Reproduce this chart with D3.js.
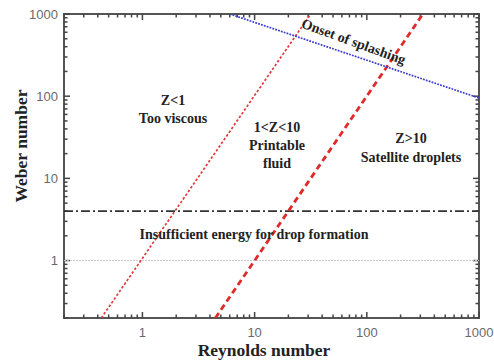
<!DOCTYPE html>
<html><head><meta charset="utf-8">
<script src="https://cdn.jsdelivr.net/npm/d3@7"></script>
<style>body{margin:0;background:#fff}</style>
</head><body>
<svg id="c" width="494" height="360"></svg>
<script>
// Data
const xTickValues = [1, 10, 100, 1000];
const yTickValues = [1, 10, 100, 1000];
const xDomain = [0.2, 1000];
const yDomain = [0.2, 1000];
// Z = 1 boundary (We = Re^2)
const z1Re = [0.43, 31.6];
const z1We = [0.2, 1000];
// Z = 10 boundary (We = (Re/10)^2)
const z10Re = [4.47, 316];
const z10We = [0.2, 1000];
// Onset of splashing
const splashRe = [6.0, 1000];
const splashWe = [1000, 95];
// Horizontal lines
const energyWe = 4;
const unityWe = 1;

const svg = d3.select("#c");
const m = {l: 64, r: 15, t: 14, b: 42};
const W = 494, H = 360;
const x = d3.scaleLog().domain(xDomain).range([m.l, W - m.r]);
const y = d3.scaleLog().domain(yDomain).range([H - m.b, m.t]);

const axisColor = "#555";
const serif = "'Liberation Serif', 'Times New Roman', serif";
const sans = "'Liberation Sans', Arial, sans-serif";

function logTicks(dom) {
  const t = [];
  for (let e = -1; e <= 3; e++) for (let k = 1; k <= 9; k++) {
    const v = +(k * Math.pow(10, e)).toPrecision(6);
    if (v >= dom[0] * 0.999 && v <= dom[1] * 1.001) t.push(v);
  }
  return t;
}
const isMajor = v => Math.abs(Math.log10(v) - Math.round(Math.log10(v))) < 1e-6;
const xt = logTicks(xDomain), yt = logTicks(yDomain);

const g = svg.append("g");
// frame
g.append("rect").attr("x", m.l).attr("y", m.t).attr("width", W - m.l - m.r).attr("height", H - m.t - m.b)
  .attr("fill", "none").attr("stroke", axisColor).attr("stroke-width", 2);
const tk = g.append("g").attr("stroke", "#444").attr("stroke-width", 1.5);
const len = d => isMajor(d) ? 6 : 3.5;
const x0 = x.range()[0], x1 = x.range()[1], y0 = y.range()[0], y1 = y.range()[1];
tk.selectAll(".xb").data(xt).join("line").attr("x1", d => x(d)).attr("x2", d => x(d))
  .attr("y1", y0).attr("y2", d => y0 - len(d));
tk.selectAll(".xt").data(xt).join("line").attr("x1", d => x(d)).attr("x2", d => x(d))
  .attr("y1", y1).attr("y2", d => y1 + len(d));
tk.selectAll(".yl").data(yt).join("line").attr("y1", d => y(d)).attr("y2", d => y(d))
  .attr("x1", x0).attr("x2", d => x0 + len(d));
tk.selectAll(".yr").data(yt).join("line").attr("y1", d => y(d)).attr("y2", d => y(d))
  .attr("x1", x1).attr("x2", d => x1 - len(d));

// tick labels
g.selectAll(".xl").data(xTickValues).join("text").attr("x", d => x(d)).attr("y", y0 + 19)
  .attr("text-anchor", "middle").attr("font-family", sans).attr("font-size", 13).attr("fill", "#6a6a6a")
  .text(d => d3.format("d")(d));
g.selectAll(".yl2").data(yTickValues).join("text").attr("x", x0 - 6).attr("y", d => y(d) + 4.5)
  .attr("text-anchor", "end").attr("font-family", sans).attr("font-size", 13).attr("fill", "#6a6a6a")
  .text(d => d3.format("d")(d));

svg.append("clipPath").attr("id", "pc").append("rect")
  .attr("x", m.l).attr("y", m.t).attr("width", W - m.l - m.r).attr("height", H - m.t - m.b);
const pg = svg.append("g").attr("clip-path", "url(#pc)");

const line = d3.line().x(d => x(d[0])).y(d => y(d[1]));

pg.append("line").attr("x1", x(xDomain[0])).attr("x2", x(xDomain[1]))
  .attr("y1", y(unityWe)).attr("y2", y(unityWe))
  .attr("stroke", "#c8c8c8").attr("stroke-width", 1).attr("stroke-dasharray", "2,1");
pg.append("line").attr("x1", x(xDomain[0])).attr("x2", x(xDomain[1]))
  .attr("y1", y(energyWe)).attr("y2", y(energyWe))
  .attr("stroke", "#333").attr("stroke-width", 1.7).attr("stroke-dasharray", "9,3,2,3");
pg.append("path").datum(d3.zip(z1Re, z1We)).attr("d", line)
  .attr("fill", "none").attr("stroke", "#e0393b").attr("stroke-width", 1.7).attr("stroke-dasharray", "2.5,2");
pg.append("path").datum(d3.zip(z10Re, z10We)).attr("d", line)
  .attr("fill", "none").attr("stroke", "#e02a2a").attr("stroke-width", 2.8).attr("stroke-dasharray", "6,4");
pg.append("path").datum(d3.zip(splashRe, splashWe)).attr("d", line)
  .attr("fill", "none").attr("stroke", "#3a3ad0").attr("stroke-width", 1.7).attr("stroke-dasharray", "1.8,1.2");

function label(txt, cx, cy, size) {
  svg.append("text").attr("x", cx).attr("y", cy).attr("text-anchor", "middle")
    .attr("font-family", serif).attr("font-weight", "bold").attr("font-size", size || 14)
    .attr("fill", "#222").text(txt);
}
label("Z<1", 173, 105);
label("Too viscous", 173, 123);
label("1<Z<10", 277, 132);
label("Printable", 277, 150);
label("fluid", 277, 168);
label("Z>10", 411, 143);
label("Satellite droplets", 411, 162);
label("Insufficient energy for drop formation", 254, 239);
svg.append("text").attr("transform", "translate(352,46) rotate(20)")
  .attr("text-anchor", "middle").attr("font-family", serif).attr("font-weight", "bold")
  .attr("font-size", 14).attr("fill", "#222").text("Onset of splashing");

svg.append("text").attr("x", 264).attr("y", 356).attr("text-anchor", "middle")
  .attr("font-family", serif).attr("font-weight", "bold").attr("font-size", 17.5)
  .attr("fill", "#222").text("Reynolds number");
svg.append("text").attr("transform", "translate(27,146) rotate(-90)").attr("text-anchor", "middle")
  .attr("font-family", serif).attr("font-weight", "bold").attr("font-size", 17.5)
  .attr("fill", "#222").text("Weber number");
</script>
</body></html>
